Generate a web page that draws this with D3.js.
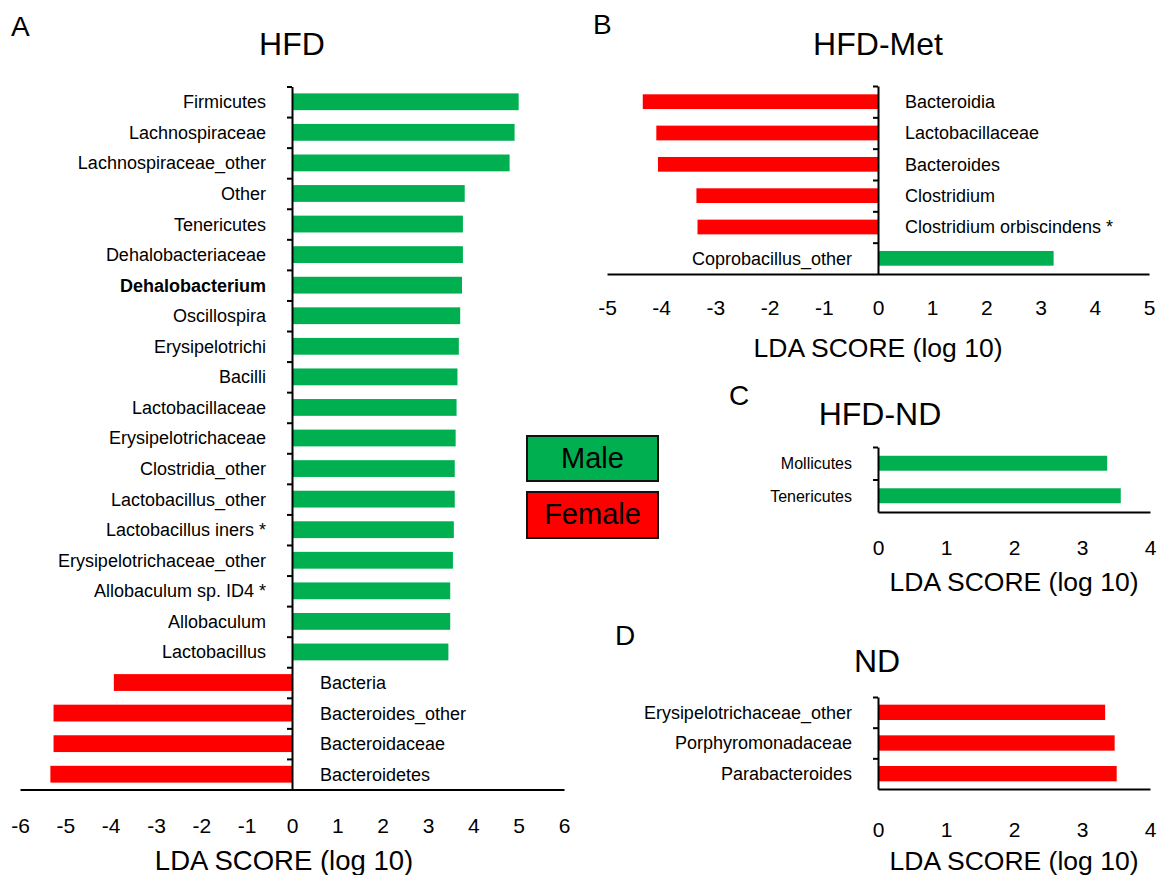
<!DOCTYPE html>
<html><head><meta charset="utf-8">
<script src="https://cdn.jsdelivr.net/npm/d3@7"></script>
<style>
body{margin:0;background:#fff}
svg{display:block}
text{font-family:"Liberation Sans",Arial,Helvetica,sans-serif;fill:#000}
</style>
</head><body>
<svg id="chart" width="1163" height="875"></svg>
<script>
// ---- Data ----
const hfdCategories = ["Firmicutes","Lachnospiraceae","Lachnospiraceae_other","Other","Tenericutes","Dehalobacteriaceae","Dehalobacterium","Oscillospira","Erysipelotrichi","Bacilli","Lactobacillaceae","Erysipelotrichaceae","Clostridia_other","Lactobacillus_other","Lactobacillus iners *","Erysipelotrichaceae_other","Allobaculum sp. ID4 *","Allobaculum","Lactobacillus","Bacteria","Bacteroides_other","Bacteroidaceae","Bacteroidetes"];
const hfdValues = [5.00,4.91,4.80,3.81,3.77,3.77,3.75,3.71,3.68,3.65,3.63,3.61,3.59,3.59,3.57,3.55,3.49,3.49,3.45,-3.93,-5.26,-5.26,-5.33];
const hfdGroups = ["Male","Male","Male","Male","Male","Male","Male","Male","Male","Male","Male","Male","Male","Male","Male","Male","Male","Male","Male","Female","Female","Female","Female"];
const hfdBold = ["Dehalobacterium"];
const hfdTicks = [-6,-5,-4,-3,-2,-1,0,1,2,3,4,5,6];

const metCategories = ["Bacteroidia","Lactobacillaceae","Bacteroides","Clostridium","Clostridium orbiscindens *","Coprobacillus_other"];
const metValues = [-4.34,-4.09,-4.06,-3.35,-3.33,3.24];
const metGroups = ["Female","Female","Female","Female","Female","Male"];
const metTicks = [-5,-4,-3,-2,-1,0,1,2,3,4,5];

const hfdNdCategories = ["Mollicutes","Tenericutes"];
const hfdNdValues = [3.37,3.57];
const hfdNdGroups = ["Male","Male"];
const hfdNdTicks = [0,1,2,3,4];

const ndCategories = ["Erysipelotrichaceae_other","Porphyromonadaceae","Parabacteroides"];
const ndValues = [3.34,3.48,3.51];
const ndGroups = ["Female","Female","Female"];
const ndTicks = [0,1,2,3,4];

const legendLabels = ["Male","Female"];
const axisTitle = "LDA SCORE (log 10)";

const color = d3.scaleOrdinal().domain(legendLabels).range(["#00b050","#ff0000"]);
const svg = d3.select("#chart");

function drawPanel(p){
  const g = svg.append("g");
  const x = d3.scaleLinear().domain(p.domain).range(p.xRange);
  const n = p.cats.length;
  const y = d3.scaleBand().domain(p.cats).range([p.top, p.bottom]).paddingInner(p.pad).paddingOuter(p.pad/2);
  const yb = d3.scaleLinear().domain([0,n]).range([p.top, p.bottom]);
  const zero = x(0);

  // bars
  g.selectAll("rect.bar").data(p.cats).enter().append("rect")
    .attr("class","bar")
    .attr("x", (d,i)=> Math.min(x(0), x(p.vals[i])))
    .attr("width", (d,i)=> Math.abs(x(p.vals[i]) - x(0)))
    .attr("y", d=> y(d))
    .attr("height", y.bandwidth())
    .attr("fill", (d,i)=> color(p.groups[i]));

  // vertical axis with boundary ticks
  const ya = g.append("g").attr("transform",`translate(${zero},0)`)
    .call(d3.axisLeft(yb).tickValues(d3.range(0,n)).tickSize(5).tickSizeOuter(0).tickFormat(""));
  ya.select(".domain").attr("stroke","#000").attr("stroke-width",2);
  ya.selectAll(".tick line").attr("stroke","#000").attr("stroke-width",2);

  // horizontal axis
  const xa = g.append("g").attr("transform",`translate(0,${p.bottom})`)
    .call(d3.axisBottom(x).tickValues(p.ticks).tickSize(0).tickSizeOuter(0).tickFormat(d=>String(d)));
  xa.select(".domain").attr("stroke","#000").attr("stroke-width",2);
  xa.selectAll(".tick text").attr("y", p.tickBase - p.bottom).attr("dy", null)
    .style("font-size","21px").style("font-family","'Liberation Sans',Arial,sans-serif").attr("fill","#000");

  // category labels
  g.selectAll("text.cat").data(p.cats).enter().append("text")
    .attr("class","cat")
    .attr("x", (d,i)=> p.vals[i] >= 0 ? zero - p.labLeft : zero + p.labRight)
    .attr("y", d=> y(d) + y.bandwidth()/2)
    .attr("dy","0.36em")
    .attr("text-anchor", (d,i)=> p.vals[i] >= 0 ? "end" : "start")
    .style("font-size", p.labSize + "px")
    .style("font-weight", d=> (p.bold||[]).includes(d) ? "bold" : "normal")
    .text(d=>d);

  // axis title
  g.append("text").attr("x", p.axTitleX).attr("y", p.axTitleBase)
    .attr("text-anchor","middle").style("font-size", p.axTitleSize + "px").text(axisTitle);
  // panel title
  g.append("text").attr("x", p.titleX).attr("y", p.titleBase)
    .attr("text-anchor","middle").style("font-size","32px").text(p.title);
  // panel letter
  g.append("text").attr("x", p.letterX).attr("y", p.letterBase)
    .style("font-size","28px").text(p.letter);
}

drawPanel({cats:hfdCategories, vals:hfdValues, groups:hfdGroups, bold:hfdBold, ticks:hfdTicks, domain:[-6,6], xRange:[20,564],
  top:86.5, bottom:789.5, pad:0.45, tickBase:833, labLeft:26, labRight:28, labSize:18,
  axTitleX:284, axTitleBase:870, axTitleSize:27.5, title:"HFD", titleX:292, titleBase:55, letter:"A", letterX:11, letterBase:36});

drawPanel({cats:metCategories, vals:metValues, groups:metGroups, ticks:metTicks, domain:[-5,5], xRange:[607,1149],
  top:86, bottom:274, pad:0.53, tickBase:315, labLeft:26, labRight:27, labSize:18,
  axTitleX:878, axTitleBase:357, axTitleSize:26.5, title:"HFD-Met", titleX:878, titleBase:55, letter:"B", letterX:593, letterBase:34});

drawPanel({cats:hfdNdCategories, vals:hfdNdValues, groups:hfdNdGroups, ticks:hfdNdTicks, domain:[0,4], xRange:[878,1150],
  top:447, bottom:512, pad:0.54, tickBase:555, labLeft:26, labRight:26, labSize:16,
  axTitleX:1014, axTitleBase:591, axTitleSize:26.5, title:"HFD-ND", titleX:880, titleBase:425, letter:"C", letterX:729, letterBase:405});

drawPanel({cats:ndCategories, vals:ndValues, groups:ndGroups, ticks:ndTicks, domain:[0,4], xRange:[878,1150],
  top:697, bottom:789, pad:0.5, tickBase:837, labLeft:26, labRight:26, labSize:18,
  axTitleX:1014, axTitleBase:870, axTitleSize:26.5, title:"ND", titleX:877, titleBase:672, letter:"D", letterX:615, letterBase:645});

// legend
const lg = svg.append("g");
lg.selectAll("rect").data(legendLabels).enter().append("rect")
  .attr("x",527).attr("y",(d,i)=> i===0 ? 436 : 492).attr("width",131).attr("height",(d,i)=> i===0 ? 45 : 46)
  .attr("fill",d=>color(d)).attr("stroke","#111").attr("stroke-width",2);
lg.selectAll("text").data(legendLabels).enter().append("text")
  .attr("x",592.5).attr("y",(d,i)=> i===0 ? 468 : 524).attr("text-anchor","middle")
  .style("font-size","29px").text(d=>d);
</script>
</body></html>
